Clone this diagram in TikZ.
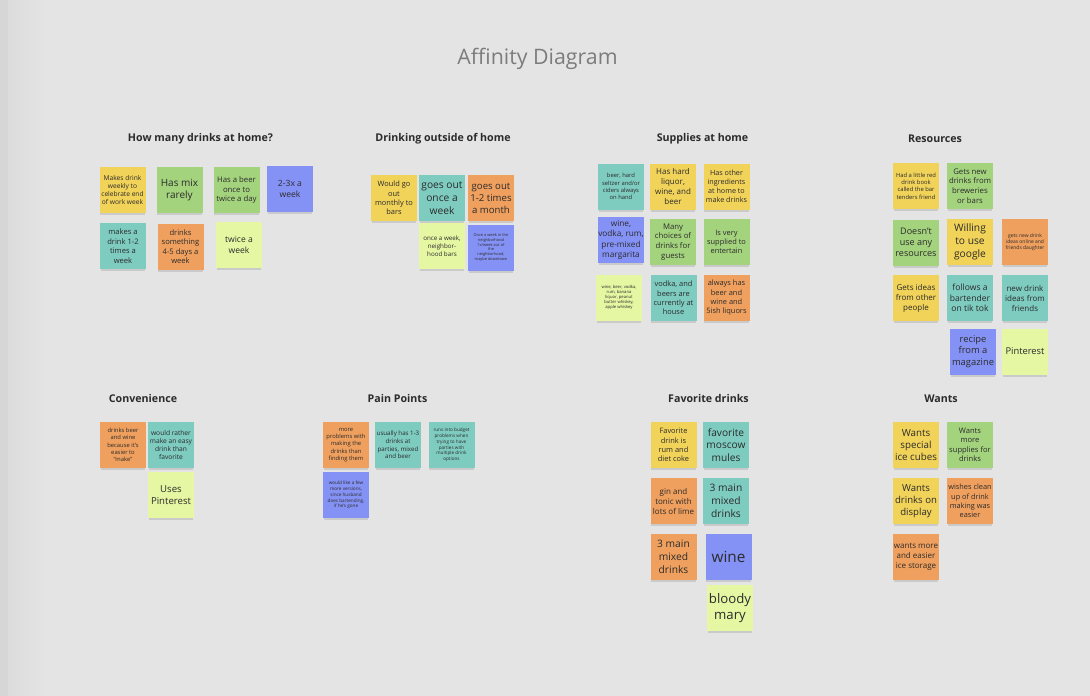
\documentclass[tikz,border=0pt]{standalone}
\usepackage{fontspec}
\setmainfont{Open Sans}
\usetikzlibrary{shadows}

\definecolor{bg}{HTML}{E4E4E4}
\definecolor{edgegray}{HTML}{D6D6D6}
\definecolor{ink}{HTML}{2B2B2B}
\definecolor{titlegray}{HTML}{7C7C7C}
\definecolor{cYel}{HTML}{F2D35A}
\definecolor{cGrn}{HTML}{A4D37E}
\definecolor{cTeal}{HTML}{7ECBC0}
\definecolor{cOrg}{HTML}{F0A05E}
\definecolor{cBlue}{HTML}{8592F5}
\definecolor{cLime}{HTML}{E6F7A3}

\tikzset{
  % sticky note; sp = line spacing in px, font scaled from it
  sp/.code={\pgfmathsetmacro\fsz{#1*0.6}\pgfmathsetmacro\fsk{#1*0.75}%
    \edef\tmp{\noexpand\tikzset{font=\noexpand\fontsize{\fsz pt}{\fsk pt}\noexpand\selectfont}}\tmp},
  note/.style={minimum width=34.5pt, minimum height=34.5pt, inner sep=0pt,
    align=center, text=ink,
    drop shadow={shadow xshift=0pt, shadow yshift=-2.4pt, opacity=0.25, shadow scale=0.97}},
  nY/.style={note, fill=cYel},
  nG/.style={note, fill=cGrn},
  nT/.style={note, fill=cTeal},
  nO/.style={note, fill=cOrg},
  nB/.style={note, fill=cBlue},
  nL/.style={note, fill=cLime},
  head/.style={font=\bfseries\fontsize{8pt}{10pt}\selectfont, text=ink, inner sep=0pt},
}

\begin{document}
\begin{tikzpicture}[x=0.75pt,y=-0.75pt]
  % board
  \fill[bg] (0,0) rectangle (1090,696);
  \fill[edgegray] (0,0) rectangle (8,696);
  \shade[left color=edgegray!60!bg, right color=bg] (8,0) rectangle (45,696);
  \useasboundingbox (0,0) rectangle (1090,696);

  \node[text=titlegray, font=\fontsize{16pt}{19pt}\selectfont, inner sep=0pt] (title) at (537.5,59) {Affinity Diagram};

  % group headings
  \node[head] (h1) at (200.5,138.5) {How many drinks at home?};
  \node[head] (h2) at (443,138.5) {Drinking outside of home};
  \node[head] (h3) at (702.5,138.5) {Supplies at home};
  \node[head] (h4) at (935,138.5) {Resources};
  \node[head] (h5) at (143,398.5) {Convenience};
  \node[head] (h6) at (397.5,398.5) {Pain Points};
  \node[head] (h7) at (708.5,398.5) {Favorite drinks};
  \node[head] (h8) at (941,398.5) {Wants};

  % How many drinks at home?
  \node[nY, sp=8.3] (a1) at (122.5,190) {Makes drink\\weekly to\\celebrate end\\of work week};
  \node[nG, sp=12.5] (a2) at (179.5,190) {Has mix\\rarely};
  \node[nG, sp=9.7] (a3) at (236.5,190) {Has a beer\\once to\\twice a day};
  \node[nB, sp=10.7] (a4) at (290,189) {2-3x a\\week};
  \node[nT, sp=9.5] (a5) at (123,246) {makes a\\drink 1-2\\times a\\week};
  \node[nO, sp=9.5] (a6) at (180.5,246.5) {drinks\\something\\4-5 days a\\week};
  \node[nL, sp=10.7] (a7) at (239,245) {twice a\\week};

  % Drinking outside of home
  \node[nY, sp=9.3] (b1) at (394,198) {Would go\\out\\monthly to\\bars};
  \node[nT, sp=12.8] (b2) at (442,198) {goes out\\once a\\week};
  \node[nO, sp=12] (b3) at (491,198) {goes out\\1-2 times\\a month};
  \node[nL, sp=7.8] (b4) at (442,246) {once a week,\\neighbor-\\hood bars};
  \node[nB, sp=4.9] (b5) at (491,247.5) {Once a week in the\\neighborhood\\1x/week out of\\the\\neighborhood,\\maybe downtown};

  % Supplies at home
  \node[nT, sp=7.3] (c1) at (621,186.5) {beer, hard\\seltzer and/or\\ciders always\\on hand};
  \node[nY, sp=10] (c2) at (673,186.5) {Has hard\\liquor,\\wine, and\\beer};
  \node[nY, sp=9] (c3) at (726.5,186.5) {Has other\\ingredients\\at home to\\make drinks};
  \node[nB, sp=10.3] (c4) at (621,240) {wine,\\vodka, rum,\\pre-mixed\\margarita};
  \node[nG, sp=9.7] (c5) at (673,242) {Many\\choices of\\drinks for\\guests};
  \node[nG, sp=9.3] (c6) at (726.5,242) {Is very\\supplied to\\entertain};
  \node[nL, sp=5.2] (c7) at (619,297.5) {wine, beer, vodka,\\rum, banana\\liquor, peanut\\butter whiskey,\\apple whiskey};
  \node[nT, sp=9.3] (c8) at (673.5,298) {vodka, and\\beers are\\currently at\\house};
  \node[nO, sp=9.3] (c9) at (726.5,298) {always has\\beer and\\wine and\\5ish liquors};

  % Resources
  \node[nY, sp=7.3] (d1) at (916,186) {Had a little red\\drink book\\called the bar\\tenders friend};
  \node[nG, sp=9.7] (d2) at (970,186) {Gets new\\drinks from\\breweries\\or bars};
  \node[nG, sp=11.3] (d3) at (916,242.5) {Doesn't\\use any\\resources};
  \node[nY, sp=12.8] (d4) at (970,242) {Willing\\to use\\google};
  \node[nO, sp=6.2] (d5) at (1025,242) {gets new drink\\ideas online and\\friends daughter};
  \node[nY, sp=10] (d6) at (916,298) {Gets ideas\\from other\\people};
  \node[nT, sp=10.7] (d7) at (970,298) {follows a\\bartender\\on tik tok};
  \node[nT, sp=10] (d8) at (1025,298) {new drink\\ideas from\\friends};
  \node[nB, sp=11.7] (d9) at (973,351.5) {recipe\\from a\\magazine};
  \node[nL, sp=11.7] (d10) at (1025,351.5) {Pinterest};

  % Convenience
  \node[nO, sp=7.3] (e1) at (123,445) {drinks beer\\and wine\\because it's\\easier to\\“make”};
  \node[nT, sp=8.3] (e2) at (171,445) {would rather\\make an easy\\drink than\\favorite};
  \node[nL, sp=12] (e3) at (171,495) {Uses\\Pinterest};

  % Pain Points
  \node[nO, sp=7.3] (f1) at (346,445) {more\\problems with\\making the\\drinks than\\finding them};
  \node[nT, sp=7.7] (f2) at (398,445) {usually has 1-3\\drinks at\\parties, mixed\\and beer};
  \node[nT, sp=5.8] (f3) at (451.5,445) {runs into budget\\problems when\\trying to have\\parties with\\multiple drink\\options};
  \node[nB, sp=5.8] (f4) at (346,495) {would like a few\\more versions,\\since husband\\does bartending,\\if he's gone};

  % Favorite drinks
  \node[nY, sp=9.3] (g1) at (673.5,445) {Favorite\\drink is\\rum and\\diet coke};
  \node[nT, sp=12.7] (g2) at (726,445) {favorite\\moscow\\mules};
  \node[nO, sp=10] (g3) at (673.5,501) {gin and\\tonic with\\lots of lime};
  \node[nT, sp=12.8] (g4) at (726,501) {3 main\\mixed\\drinks};
  \node[nO, sp=12.8] (g5) at (673.5,556.5) {3 main\\mixed\\drinks};
  \node[nB, font=\fontsize{11.5pt}{13pt}\selectfont] (g6) at (728.5,556.5) {wine};
  \node[nL, sp=16.5] (g7) at (730,608) {bloody\\mary};

  % Wants
  \node[nY, sp=12.2] (k1) at (916,445) {Wants\\special\\ice cubes};
  \node[nG, sp=9.5] (k2) at (970,445) {Wants\\more\\supplies for\\drinks};
  \node[nY, sp=12] (k3) at (916,501) {Wants\\drinks on\\display};
  \node[nO, sp=9.2] (k4) at (970,501) {wishes clean\\up of drink\\making was\\easier};
  \node[nO, sp=10] (k5) at (916,556.5) {wants more\\and easier\\ice storage};
\end{tikzpicture}
\end{document}
